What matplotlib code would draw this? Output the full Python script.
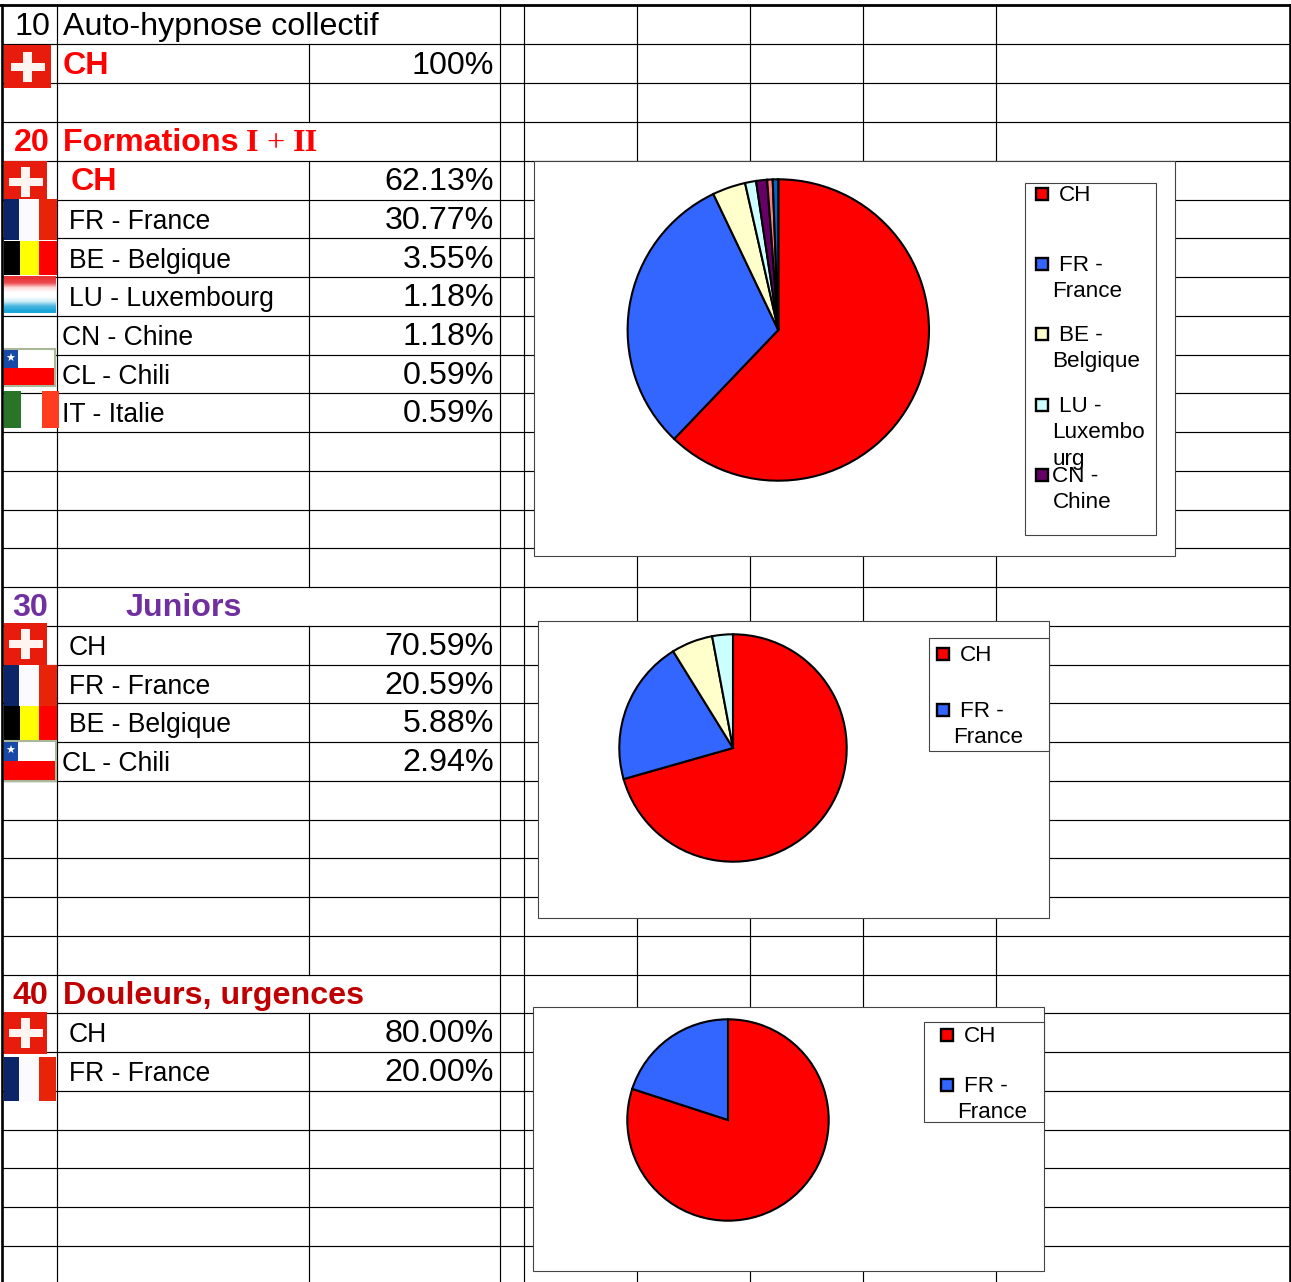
import matplotlib
matplotlib.use("Agg")
import matplotlib.pyplot as plt
from matplotlib.patches import Rectangle
from matplotlib.lines import Line2D
import numpy as np

plt.rcParams['font.family'] = ['Liberation Sans', 'DejaVu Sans']

W, H = 1291, 1282
fig = plt.figure(figsize=(W/100, H/100), dpi=100, facecolor='white')
ax = fig.add_axes([0, 0, 1, 1])
ax.set_xlim(0, W); ax.set_ylim(H, 0); ax.axis('off')

# ---------- data ----------
row_lines = [44, 83, 122, 161, 200, 238, 277, 316, 355, 393, 432, 471, 510, 548, 587,
             626, 665, 703, 742, 781, 820, 858, 897, 936, 975, 1013, 1052, 1091, 1130,
             1168, 1207, 1246]
header_rows = [(5, 44), (122, 161), (587, 626), (975, 1013)]
col_lines = [57, 500, 524, 637, 750, 863, 996]

section_nums = ['10', '20', '30', '40']
section_names = ['Auto-hypnose collectif', 'Formations ', 'Juniors', 'Douleurs, urgences']
section_colors = ['black', '#FF0000', '#7030A0', '#C00000']

labels_a = ['CH']
values_a = ['100%']
labels_b = ['CH', 'FR - France', 'BE - Belgique', 'LU - Luxembourg', 'CN - Chine', 'CL - Chili', 'IT - Italie']
values_b = ['62.13%', '30.77%', '3.55%', '1.18%', '1.18%', '0.59%', '0.59%']
labels_c = ['CH', 'FR - France', 'BE - Belgique', 'CL - Chili']
values_c = ['70.59%', '20.59%', '5.88%', '2.94%']
labels_d = ['CH', 'FR - France']
values_d = ['80.00%', '20.00%']

pie_b = [62.13, 30.77, 3.55, 1.18, 1.18, 0.59, 0.59]
pie_c = [70.59, 20.59, 5.88, 2.94]
pie_d = [80.00, 20.00]
pie_colors_b = ['#FF0000', '#3366FF', '#FFFFCC', '#CCFFFF', '#660066', '#FF8080', '#0066CC']
pie_colors_c = ['#FF0000', '#3366FF', '#FFFFCC', '#CCFFFF']
pie_colors_d = ['#FF0000', '#3366FF']

FS = 23.2
RFS = 19.1
LFS = 16.2
GLW = 0.85
OFF = -0.5

# ---------- grid ----------
for y in row_lines:
    ax.add_line(Line2D([3, 1290], [y+OFF, y+OFF], color='black', lw=GLW, zorder=1))
for x in col_lines:
    ax.add_line(Line2D([x+OFF, x+OFF], [5, H], color='black', lw=GLW, zorder=1))
# column 309 is interrupted in the header rows
prev = header_rows[0][1]
for a, b in header_rows[1:] + [(H, H)]:
    ax.add_line(Line2D([309+OFF, 309+OFF], [prev, a], color='black', lw=GLW, zorder=1))
    prev = b
ax.add_line(Line2D([0, W], [5, 5], color='black', lw=2, zorder=6))
ax.add_line(Line2D([2, 2], [5, H], color='black', lw=1.9, zorder=6))
ax.add_line(Line2D([1290, 1290], [5, H], color='black', lw=1.9, zorder=6))

# ---------- flags ----------
def rect(x0, y0, x1, y1, c, z=3):
    ax.add_patch(Rectangle((x0, y0), x1-x0, y1-y0, fc=c, ec='none', zorder=z))

def swiss(x0, y0, x1, y1):
    rect(x0, y0, x1, y1, '#E81C0C')
    cx, cy = (x0+x1)/2, (y0+y1)/2
    rect(cx-17, cy-4, cx+17, cy+4, '#FFF4F0', 4)
    rect(cx-4.5, cy-15, cx+4.5, cy+15, '#FFF4F0', 4)

def france(x0, y0, x1, y1):
    rect(x0, y0, x0+15, y1, '#0C2468')
    rect(x0+15, y0, x0+35, y1, '#FAFAFF')
    rect(x0+35, y0, x1, y1, '#E82408')

def belgium(x0, y0, x1, y1):
    rect(x0, y0, x0+16, y1, 'black')
    rect(x0+16, y0, x0+35, y1, '#FFFF00')
    rect(x0+35, y0, x1, y1, '#FF0000')

def chile(x0, y0, x1, y1):
    ax.add_patch(Rectangle((x0, y0), x1-x0, y1-y0, fc='white', ec='#A8B898', lw=1.5, zorder=3))
    rect(x0, (y0+y1)/2, x1-1, y1-1, '#FF0000', 4)
    rect(x0, y0+1, x0+14, (y0+y1)/2, '#1848A8', 4)
    ax.text(x0+6, y0+10, '★', color='white', fontsize=8, ha='center', va='center',
            family='DejaVu Sans', zorder=5)

def luxembourg(x0, y0, x1, y1):
    bands = np.array([[.92, .2, .2], [.92, .3, .32], [1, .85, .85], [1, 1, 1], [1, 1, 1],
                      [.8, .93, .97], [.3, .72, .88], [.1, .65, .85]])
    ax.imshow(bands[:, None, :], extent=(x0, x1, y1, y0), aspect='auto',
              interpolation='bilinear', zorder=3)

def italy(x0, y0, x1, y1):
    rect(x0, y0, x0+17, y1, '#2A7428')
    rect(x0+38, y0, x1, y1, '#FF3C20')

swiss(4, 45, 51, 88)
swiss(4, 161, 47, 203)
france(4, 199, 57, 240)
belgium(4, 241, 57, 275)
luxembourg(4, 276, 56, 313)
chile(4, 349, 55, 386)
italy(4, 391, 59, 428)
swiss(4, 623, 47, 665)
france(4, 665, 57, 706)
belgium(4, 706, 57, 741)
chile(4, 741, 56, 781)
swiss(4, 1012, 47, 1054)
france(4, 1057, 56, 1101)
ax.set_xlim(0, W); ax.set_ylim(H, 0)

# ---------- table text ----------
def T(x, y, s, c='black', fs=FS, w='normal', ha='left', **k):
    ax.text(x, y, s, color=c, fontsize=fs, fontweight=w, ha=ha, va='baseline', zorder=7, **k)

heads_y = [35, 151, 616, 1004]
heads_x = [63, 63, 125, 63]
nums_x = [50, 50, 48, 48]
for n, name, c, x, y, nx in zip(section_nums, section_names, section_colors, heads_x, heads_y, nums_x):
    bold = c != 'black'
    T(nx, y, n, c, w='bold' if bold else 'normal', ha='right')
    T(x, y, name, c, w='bold' if bold else 'normal')
T(246, 151, 'I', '#FF0000', w='bold', family='Liberation Serif')
T(266, 151, '+', '#FF0000', family='Liberation Serif')
T(293, 151, 'II', '#FF0000', w='bold', family='Liberation Serif')

T(63, 74, labels_a[0], '#FF0000', w='bold')
T(494, 74, values_a[0], ha='right')

y_b = [190, 229, 268, 306, 345, 384, 422]
x_b = [71, 69, 69, 69, 62, 62, 62]
for i, (l, v, y, x) in enumerate(zip(labels_b, values_b, y_b, x_b)):
    if i == 0:
        T(x, y, l, '#FF0000', w='bold')
    else:
        T(x, y, l, fs=RFS)
    T(494, y, v, ha='right')

y_c = [655, 694, 732, 771]
x_c = [69, 69, 69, 62]
for l, v, y, x in zip(labels_c, values_c, y_c, x_c):
    T(x, y, l, fs=RFS)
    T(494, y, v, ha='right')

y_d = [1042, 1081]
for l, v, y in zip(labels_d, values_d, y_d):
    T(69, y, l, fs=RFS)
    T(494, y, v, ha='right')

# ---------- charts ----------
def box(x0, y0, x1, y1, ec='#444444', z=8):
    ax.add_patch(Rectangle((x0+OFF, y0+OFF), x1-x0, y1-y0, fc='white', ec=ec, lw=0.8, zorder=z))

def pie(vals, cols, cx, cy, r):
    a = fig.add_axes([(cx-r-2)/W, 1-(cy+r+2)/H, (2*r+4)/W, (2*r+4)/H])
    a.pie(vals, colors=cols, startangle=90, counterclock=False, radius=r/(r+2),
          wedgeprops=dict(edgecolor='black', linewidth=1.5))
    a.set_xlim(-1, 1); a.set_ylim(-1, 1); a.axis('off')

def legend_marker(x, y, c):
    ax.add_patch(Rectangle((x, y-5.5), 12, 12, fc=c, ec='black', lw=1.7, zorder=10))

def L(x, y, s):
    ax.text(x, y, s, fontsize=LFS, ha='left', va='baseline', zorder=11)

box(534, 161, 1175, 556)
box(1025, 183, 1156, 535, z=9)
pie(pie_b, pie_colors_b, 778.3, 330, 150.7)
for y, c in zip([193, 263, 333, 404, 474], pie_colors_b):
    legend_marker(1036, y, c)
L(1059, 201, 'CH')
L(1059, 271, 'FR -'); L(1052.5, 297, 'France')
L(1059, 341, 'BE -'); L(1052.5, 367, 'Belgique')
L(1059, 412, 'LU -'); L(1052.5, 438, 'Luxembo'); L(1052.5, 465, 'urg')
L(1052.5, 482, 'CN -'); L(1052.5, 508, 'Chine')

box(538, 621, 1049, 918)
box(929, 638, 1049, 751, z=9)
pie(pie_c, pie_colors_c, 733, 748, 113.7)
for y, c in zip([653, 709], pie_colors_c):
    legend_marker(937, y, c)
L(960, 661, 'CH'); L(960, 717, 'FR -'); L(953.5, 743, 'France')

box(533, 1007, 1044, 1271)
box(924, 1022, 1044, 1122, z=9)
pie(pie_d, pie_colors_d, 728, 1120, 100.7)
for y, c in zip([1034, 1084], pie_colors_d):
    legend_marker(941, y, c)
L(964, 1042, 'CH'); L(964, 1092, 'FR -'); L(957.5, 1118, 'France')

fig.savefig('out.png', dpi=100, facecolor='white')
